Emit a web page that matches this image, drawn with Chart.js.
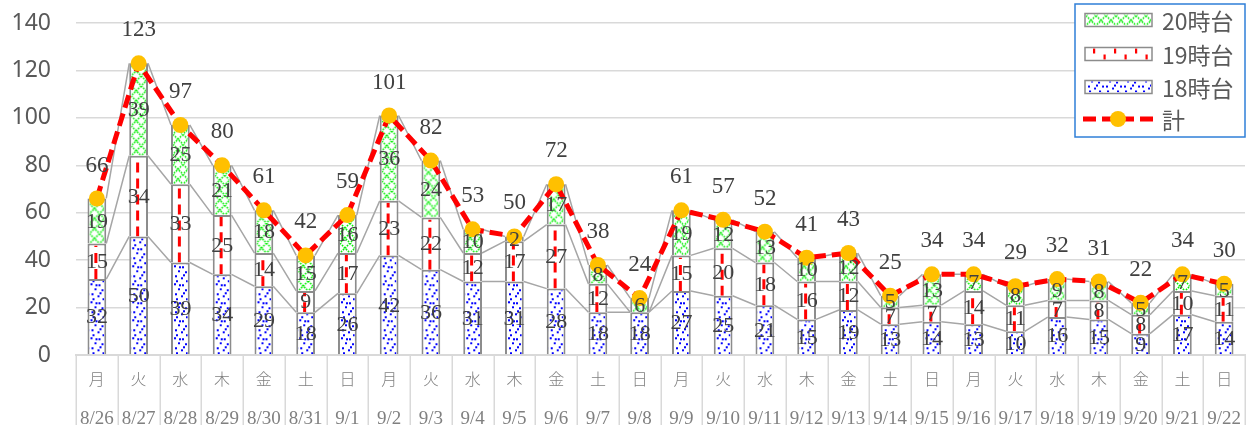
<!DOCTYPE html>
<html><head><meta charset="utf-8">
<script src="https://cdn.jsdelivr.net/npm/chart.js@4.4.1/dist/chart.umd.min.js"></script>
<style>html,body{margin:0;padding:0;background:#fff;}#wrap{width:1260px;height:425px;position:relative;}</style>
</head><body><div id="wrap"><canvas id="c"></canvas></div>
<script>
const weekdays = ['月','火','水','木','金','土','日','月','火','水','木','金','土','日','月','火','水','木','金','土','日','月','火','水','木','金','土','日'];
const dates = ['8/26','8/27','8/28','8/29','8/30','8/31','9/1','9/2','9/3','9/4','9/5','9/6','9/7','9/8','9/9','9/10','9/11','9/12','9/13','9/14','9/15','9/16','9/17','9/18','9/19','9/20','9/21','9/22'];
const h18 = [32,50,39,34,29,18,26,42,36,31,31,28,18,18,27,25,21,15,19,13,14,13,10,16,15,9,17,14];
const h19 = [15,34,33,25,14,9,17,23,22,12,17,27,12,0,15,20,18,16,12,7,7,14,11,7,8,8,10,11];
const h20 = [19,39,25,21,18,15,16,36,24,10,2,17,8,6,19,12,13,10,12,5,13,7,8,9,8,5,7,5];
const totals = [66,123,97,80,61,42,59,101,82,53,50,72,38,24,61,57,52,41,43,25,34,34,29,32,31,22,34,30];
const seriesNames = ['18時台','19時台','20時台','計'];

function makeTile(w,h,draw){const c=document.createElement('canvas');c.width=w;c.height=h;draw(c.getContext('2d'));return c;}
const dotPts=[[1,1],[9,2],[15,0],[5,6],[12,7],[2,11],[16,11],[8,13],[13,16],[3,16],[10,10],[6,2]];
const blueTile=makeTile(18,18,g=>{g.fillStyle='#0000ff';for(const [x,y] of dotPts)g.fillRect(x,y,2,2);});
const greenTile=makeTile(10,10,g=>{g.strokeStyle='#00ee00';g.lineWidth=1.6;g.setLineDash([1.6,1.2]);g.beginPath();g.moveTo(0,0);g.lineTo(10,10);g.moveTo(10,0);g.lineTo(0,10);g.stroke();});

function fillTile(ctx,tile,l,t,r,b){
  if(b-t<=0||r-l<=0)return;
  ctx.save();ctx.beginPath();ctx.rect(l,t,r-l,b-t);ctx.clip();
  const p=ctx.createPattern(tile,'repeat');
  ctx.translate(l,b);ctx.fillStyle=p;ctx.fillRect(0,t-b-20,r-l,b-t+20);
  ctx.restore();
}
function redDash(ctx,x,t,b,dash){
  if(b-t<=0)return;
  ctx.save();ctx.beginPath();ctx.rect(x-3,t,6,b-t);ctx.clip();
  ctx.strokeStyle='#ff0000';ctx.lineWidth=3;ctx.setLineDash(dash||[10,6]);
  ctx.beginPath();ctx.moveTo(x,b);ctx.lineTo(x,t);ctx.stroke();ctx.restore();
}

const BW=2;
const overlay={
  id:'overlay',
  afterDatasetDraw(chart,args){
    const i=args.index; if(i>2)return;
    const ctx=chart.ctx; const meta=chart.getDatasetMeta(i);
    meta.data.forEach(el=>{
      const p=el.getProps(['x','y','base','width'],true);
      const l=p.x-p.width/2+BW, r=p.x+p.width/2-BW, t=Math.min(p.y,p.base)+BW, b=Math.max(p.y,p.base);
      if(i===0)fillTile(ctx,blueTile,l,t,r,b);
      else if(i===1)redDash(ctx,p.x-1,t,b);
      else fillTile(ctx,greenTile,l,t,r,b);
    });
  },
  beforeDatasetDraw(chart,args){
    if(args.index!==3)return;
    const ctx=chart.ctx;
    ctx.save();ctx.strokeStyle='#a6a6a6';ctx.lineWidth=1.5;
    for(let k=0;k<3;k++){
      const d=chart.getDatasetMeta(k).data;
      ctx.beginPath();
      for(let j=0;j<d.length-1;j++){
        const a=d[j].getProps(['x','y','width'],true), c=d[j+1].getProps(['x','y','width'],true);
        ctx.moveTo(a.x+a.width/2,a.y);ctx.lineTo(c.x-c.width/2,c.y);
      }
      ctx.stroke();
    }
    ctx.restore();
  },
  afterDatasetsDraw(chart){
    const ctx=chart.ctx;
    ctx.save();ctx.fillStyle='#404040';ctx.textAlign='center';ctx.textBaseline='middle';
    ctx.font='22px "Liberation Serif"';
    for(let k=0;k<3;k++){
      const d=chart.getDatasetMeta(k).data; const vals=chart.data.datasets[k].data;
      d.forEach((el,j)=>{ if(!vals[j])return; const p=el.getProps(['x','y','base'],true); ctx.fillText(String(vals[j]),p.x,(p.y+p.base)/2+1);});
    }
    ctx.font='23px "Liberation Serif"';
    const lm=chart.getDatasetMeta(3).data;
    lm.forEach((el,j)=>{const p=el.getProps(['x','y'],true);ctx.fillText(String(totals[j]),p.x,p.y-33);});
    ctx.restore();
  },
  afterDraw(chart){
    const ctx=chart.ctx, xs=chart.scales.x, ca=chart.chartArea;
    const cat=xs.getPixelForValue(1)-xs.getPixelForValue(0);
    ctx.save();ctx.strokeStyle='#d9d9d9';ctx.lineWidth=1.5;ctx.beginPath();
    for(let i=0;i<=dates.length;i++){const x=Math.round(xs.getPixelForValue(0)-cat/2+i*cat)+0.25;ctx.moveTo(x,ca.bottom);ctx.lineTo(x,chart.height);}
    ctx.stroke();ctx.restore();
    // legend
    const L=1075,T=4,W=170,H=133;
    ctx.save();
    ctx.fillStyle='#fff';ctx.fillRect(L,T,W,H);
    ctx.strokeStyle='#2f7fd8';ctx.lineWidth=1.5;ctx.strokeRect(L,T,W,H);
    const items=[{n:seriesNames[2],k:2,y:20},{n:seriesNames[1],k:1,y:54},{n:seriesNames[0],k:0,y:87}];
    const sx=1085,sw=67,sh=13;
    items.forEach(it=>{
      const t=it.y-sh/2,b=it.y+sh/2;
      ctx.fillStyle='#fff';ctx.fillRect(sx,t,sw,sh);
      if(it.k===0)fillTile(ctx,blueTile,sx+1,t+1,sx+sw-1,b-1);
      else if(it.k===2)fillTile(ctx,greenTile,sx+1,t+1,sx+sw-1,b-1);
      else{ctx.save();ctx.fillStyle='#ff0000';for(let q=0;q<6;q++){const x=sx+8+q*10.5;const top=(q%2===0);ctx.fillRect(x,top?t+1:b-6,2.2,5);}ctx.restore();}
      ctx.strokeStyle='#8c8c8c';ctx.lineWidth=1.5;ctx.strokeRect(sx,t,sw,sh);
      ctx.fillStyle='#595959';ctx.font='23px "Noto Sans CJK JP"';ctx.textAlign='left';ctx.textBaseline='middle';
      ctx.fillText(it.n,1162,it.y+1);
    });
    const ly=119;
    ctx.strokeStyle='#ff0000';ctx.lineWidth=5;ctx.setLineDash([13,6]);ctx.beginPath();ctx.moveTo(1083,ly);ctx.lineTo(1153,ly);ctx.stroke();ctx.setLineDash([]);
    ctx.fillStyle='#ffc000';ctx.beginPath();ctx.arc(1118,ly,8,0,Math.PI*2);ctx.fill();
    ctx.fillStyle='#595959';ctx.font='23px "Noto Sans CJK JP"';ctx.textAlign='left';ctx.textBaseline='middle';
    ctx.fillText(seriesNames[3],1162,ly+1);
    ctx.restore();
  }
};

const barCommon={borderColor:'#8c8c8c',borderWidth:BW,backgroundColor:'#ffffff',barPercentage:0.45,categoryPercentage:1,order:1,stack:'s'};
new Chart(document.getElementById('c'),{
  type:'bar',
  data:{labels:weekdays,datasets:[
    Object.assign({label:seriesNames[0],data:h18},barCommon),
    Object.assign({label:seriesNames[1],data:h19},barCommon),
    Object.assign({label:seriesNames[2],data:h20},barCommon),
    {type:'line',label:seriesNames[3],data:totals,order:0,stack:'total',borderColor:'#ff0000',borderWidth:5,borderDash:[13,6],tension:0,
     pointRadius:8,pointHoverRadius:8,pointBackgroundColor:'#ffc000',pointBorderWidth:0,fill:false}
  ]},
  options:{
    responsive:true,maintainAspectRatio:false,animation:false,devicePixelRatio:1,
    layout:{padding:{top:23,right:15,left:0,bottom:0}},
    plugins:{legend:{display:false},tooltip:{enabled:false}},
    scales:{
      x:{stacked:true,weight:0,grid:{display:true,drawOnChartArea:false,drawTicks:false},border:{display:true,color:'#d9d9d9',width:2},
         ticks:{color:'#808080',font:{family:'"Noto Sans CJK JP"',size:16,weight:300},padding:14,maxRotation:0,autoSkip:false},
         afterFit:s=>{s.height=38;s.paddingLeft=0;s.paddingRight=0;}},
      x2:{type:'category',labels:dates,position:'bottom',offset:true,weight:1,grid:{display:false},border:{display:false},
         ticks:{color:'#808080',font:{family:'"Liberation Serif"',size:19},padding:7,maxRotation:0,autoSkip:false},
         afterFit:s=>{s.height=32;s.paddingLeft=0;s.paddingRight=0;}},
      y:{stacked:true,min:0,max:140,ticks:{stepSize:20,color:'#595959',font:{family:'"Noto Sans"',size:23},padding:25},
         grid:{color:'#d9d9d9',lineWidth:1.5,drawTicks:false},border:{display:false},
         afterFit:s=>{s.width=76;s.paddingTop=0;s.paddingBottom=0;}}
    }
  },
  plugins:[overlay]
});
</script></body></html>
